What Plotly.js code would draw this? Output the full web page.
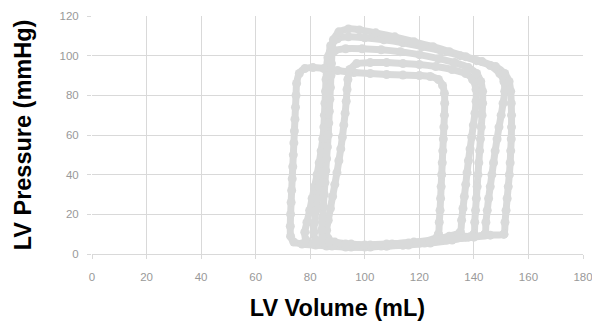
<!DOCTYPE html>
<html>
<head>
<meta charset="utf-8">
<script src="https://cdn.plot.ly/plotly-3.0.1.min.js"></script>
<style>html,body{margin:0;padding:0;background:#fff;}#chart{width:592px;height:324px;}</style>
</head>
<body>
<div id="chart"></div>
<script>
// LV pressure-volume loops (volume in mL, pressure in mmHg)
const vol1 = [127,127.3,127.6,127.8,128,128.2,128.4,128.6,128.8,129,129.2,129.3,129.2,128.5,127,124,120,114,108,102,96,90,85,81,78,76,75,74.8,74.6,74.4,74.2,74,73.8,73.6,73.4,73.2,73,72.8,72.7,72.8,74,77,82,88,95,102,108,114,120,125,127];
const pres1 = [10,16,22,28,34,40,46,52,58,64,70,76,81,85,88,89.5,90,90.2,90.5,91,91.5,92.5,93.5,94,93.5,91,86,80,74,68,62,56,50,44,38,32,26,20,14,9,6,5,4.5,4,3.5,3.5,4,4.5,5.5,7,10];

const vol2 = [135,135.5,136,136.5,137,137.5,138,138.6,139.2,139.8,140.4,140.8,140.8,139.5,137,132,126,120,114,108,102,97,94.5,93.8,93.5,93.2,92.8,92.3,91.8,91.2,90.5,89.8,89,88.2,87.4,86.6,86,86.5,89,95,102,110,118,126,131,135];
const pres2 = [11,17,23,29,35,41,47,53,59,65,71,77,83,88,91,93,94.5,95.5,96,96.5,96.5,96,93,88,83,77,71,65,59,53,47,41,35,29,23,17,12,8,6,5,4.5,5,6,7.5,9,11];

const vol3 = [140,140.3,140.6,140.9,141.2,141.5,141.8,142.1,142.4,142.7,143,143.2,143.2,142.5,141,138,133,127,120,113,106,99,93,89,86.5,86,85.8,85.6,85.4,85.2,85,84.6,84,83.3,82.5,81.6,80.7,79.8,78.8,78,78.5,81,86,93,100,108,116,124,132,137,140];
const pres3 = [10,16,22,28,34,40,46,52,58,64,70,76,82,87,91,94,96.5,98.5,100.5,102,103,103.5,103.5,102.5,99,94,88,82,76,70,64,58,52,46,40,34,28,22,16,11,7,5,4,3.5,3.5,4,4.5,5.5,7,8.5,10];

const vol4 = [144,144.4,144.9,145.4,146,146.6,147.2,147.8,148.5,149.2,150,150.7,151.3,151,149.5,146,141,135,128,121,114,107,100,94,90,87.5,86.8,86.5,86.3,86.1,85.9,85.7,85.4,85,84.6,84.1,83.6,83.1,82.6,82.1,81.6,81.3,82,85,91,98,106,114,122,130,138,144];
const pres4 = [10,16,22,28,34,40,46,52,58,64,70,76,82,87,91,95,97.5,100,102.5,104.5,106.5,108,109,109.5,108.5,105,100,94,88,82,76,70,64,58,52,46,40,34,28,22,16,11,7,5.5,4.5,4,4,4.5,5.5,7,8.5,10];

const vol5 = [151,151.4,151.8,152.2,152.6,153,153.3,153.5,153.7,153.8,153.8,153.7,153.5,152.9,151.3,148,143,137,131,125,118,111,104,98,94,90.5,88.5,88,87.8,87.6,87.4,87.2,87,86.8,86.6,86.3,86,85.7,85.4,85.1,84.8,84.5,84.2,84.5,87,93,100,108,116,124,132,140,146,151];
const pres5 = [10,16,22,28,34,40,46,52,58,64,70,76,82,87,91,94.5,97,99.5,102,104.5,107,109.5,111.5,113,113.5,112,108,102,96,90,84,78,72,66,60,54,48,42,36,30,24,18,12,8,6,5,4.5,5,5.5,6.5,7.5,8.5,9.5,10];

const loopsVol = [vol1, vol2, vol3, vol4, vol5];
const loopsPres = [pres1, pres2, pres3, pres4, pres5];

const xTicks = [0,20,40,60,80,100,120,140,160,180];
const yTicks = [0,20,40,60,80,100,120];

const loopColor = '#d9dada';
const traces = loopsVol.map((v, i) => ({
  x: v, y: loopsPres[i], type: 'scatter', mode: 'lines+markers',
  line: {color: loopColor, width: 7, shape: 'spline', smoothing: 0.6},
  marker: {color: loopColor, size: 9},
  hoverinfo: 'skip', showlegend: false
}));

const tickFont = {family: '"Liberation Sans Narrow", "Arial Narrow", "Liberation Sans", Arial, sans-serif', size: 11.5, color: '#999999'};
const titleFont = {family: '"Liberation Sans", Arial, sans-serif', size: 23.5, color: '#000000', weight: 'bold'};

const layout = {
  width: 592, height: 324,
  margin: {l: 92, r: 9, t: 16, b: 70},
  paper_bgcolor: '#ffffff', plot_bgcolor: '#ffffff',
  showlegend: false,
  xaxis: {
    range: [0, 180], tickvals: xTicks, ticktext: xTicks.map(String),
    showgrid: true, gridcolor: '#d9d9d9', gridwidth: 1,
    zeroline: false, showline: true, linecolor: '#d9d9d9', linewidth: 1,
    ticks: 'outside', ticklen: 4, tickcolor: '#d9d9d9', tickwidth: 1,
    ticklabelstandoff: 8, ticklabeloverflow: 'allow',
    tickfont: tickFont,
    title: {text: 'LV Volume (mL)', font: titleFont, standoff: 17},
    fixedrange: true
  },
  yaxis: {
    range: [0, 120], tickvals: yTicks, ticktext: yTicks.map(String),
    showgrid: true, gridcolor: '#d9d9d9', gridwidth: 1,
    zeroline: false, showline: false,
    ticks: 'outside', ticklen: 4, tickcolor: '#d9d9d9', tickwidth: 1,
    ticklabelstandoff: 6,
    tickfont: tickFont,
    title: {text: 'LV Pressure (mmHg)', font: titleFont, standoff: 21},
    fixedrange: true
  }
};

Plotly.newPlot('chart', traces, layout, {staticPlot: true, displayModeBar: false});
</script>
</body>
</html>
